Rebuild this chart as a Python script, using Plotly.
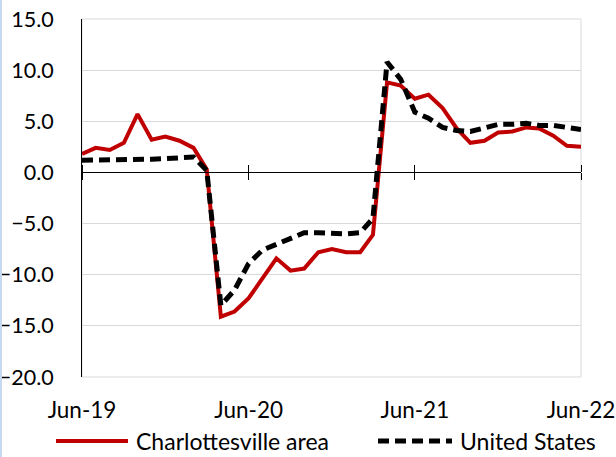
import plotly.graph_objects as go
import pandas as pd

months = pd.date_range("2019-06-01", "2022-06-01", freq="MS")

charlottesville = [1.8, 2.4, 2.2, 2.9, 5.7, 3.2, 3.5, 3.1, 2.4, 0.3,
                   -14.1, -13.6, -12.3, -10.4, -8.4, -9.6, -9.4, -7.8, -7.5, -7.8,
                   -7.8, -6.1, 8.8, 8.5, 7.2, 7.6, 6.3, 4.3, 2.9, 3.1,
                   3.9, 4.0, 4.4, 4.3, 3.6, 2.6, 2.5]
united_states = [1.2, 1.2, 1.3, 1.3, 1.3, 1.3, 1.35, 1.4, 1.5, 0.2,
                 -13.0, -11.5, -8.9, -7.6, -7.0, -6.4, -5.9, -5.9, -6.0, -6.0,
                 -5.9, -4.5, 10.8, 9.1, 5.9, 5.3, 4.4, 4.1, 4.0, 4.3,
                 4.7, 4.7, 4.8, 4.6, 4.6, 4.4, 4.2]

tick_dates = ["2019-06-01", "2020-06-01", "2021-06-01", "2022-06-01"]
tick_text = ["Jun-19", "Jun-20", "Jun-21", "Jun-22"]
series_names = ["Charlottesville area", "United States"]

RED = "#C00000"
FONT = "Lato"
y_zero_frac = 20 / 35

fig = go.Figure()
fig.add_trace(go.Scatter(x=months, y=charlottesville, mode="lines", name=series_names[0],
                         line=dict(color=RED, width=4), showlegend=False))
fig.add_trace(go.Scatter(x=months, y=united_states, mode="lines", name=series_names[1],
                         line=dict(color="black", width=5, dash="11px,6px"), showlegend=False))

xr = [tick_dates[0], tick_dates[-1]]
fig.update_layout(
    width=616, height=457,
    margin=dict(l=82, r=35, t=19, b=80, autoexpand=False),
    paper_bgcolor="white", plot_bgcolor="white",
    font=dict(family=FONT, size=21.5, color="black"),
    xaxis=dict(range=xr, tickvals=tick_dates, ticktext=tick_text, showgrid=False,
               showline=False, zeroline=False, ticks="", ticklabelstandoff=17,
               tickfont=dict(size=22.5), automargin=False),
    xaxis2=dict(range=xr, overlaying="x", anchor="free", position=y_zero_frac,
                tickvals=tick_dates, showticklabels=False, ticks="outside", ticklen=7,
                tickcolor="black", tickwidth=1, showline=True, linecolor="black",
                linewidth=1, showgrid=False, zeroline=False, automargin=False),
    xaxis3=dict(range=xr, overlaying="x", anchor="free", position=y_zero_frac, side="top",
                tickvals=tick_dates, showticklabels=False, ticks="outside", ticklen=7,
                tickcolor="black", tickwidth=1, showline=False, showgrid=False,
                zeroline=False, automargin=False),
    yaxis=dict(range=[-20, 15], dtick=5, tick0=-20, tickformat=".1f", showgrid=True,
               gridcolor="#d9d9d9", gridwidth=1, zeroline=False, showline=True,
               linecolor="black", linewidth=1, ticks="", ticklabelstandoff=23,
               automargin=False),
)
fig.add_trace(go.Scatter(x=[months[0]], y=[0], xaxis="x2", mode="markers",
                         marker=dict(opacity=0), showlegend=False, hoverinfo="skip"))
fig.add_trace(go.Scatter(x=[months[0]], y=[0], xaxis="x3", mode="markers",
                         marker=dict(opacity=0), showlegend=False, hoverinfo="skip"))

fig.add_shape(type="rect", xref="paper", yref="paper", x0=0, x1=1, y0=0, y1=1,
              line=dict(color="#d9d9d9", width=1), layer="below")
pw = 499
fig.add_shape(type="rect", xref="paper", yref="paper", x0=-82 / pw, x1=-80 / pw,
              y0=-80 / 358, y1=1 + 19 / 358, line=dict(width=0), fillcolor="#c6d9f1")

ly = -(441 - 377) / 358
fig.add_shape(type="line", xref="paper", yref="paper", x0=(56 - 82) / pw, x1=(128 - 82) / pw,
              y0=ly, y1=ly, line=dict(color=RED, width=4))
fig.add_shape(type="line", xref="paper", yref="paper", x0=(378 - 82) / pw, x1=(452 - 82) / pw,
              y0=ly, y1=ly, line=dict(color="black", width=5, dash="11px,6px"))
fig.add_annotation(x=(134 - 82) / pw, y=ly, xref="paper", yref="paper", text=series_names[0],
                   showarrow=False, xanchor="left", yanchor="middle", font=dict(size=23))
fig.add_annotation(x=(458 - 82) / pw, y=ly, xref="paper", yref="paper", text=series_names[1],
                   showarrow=False, xanchor="left", yanchor="middle", font=dict(size=23))

fig.write_html("out.html", config={"displayModeBar": False},
               post_script="document.body.style.margin='0px';")
